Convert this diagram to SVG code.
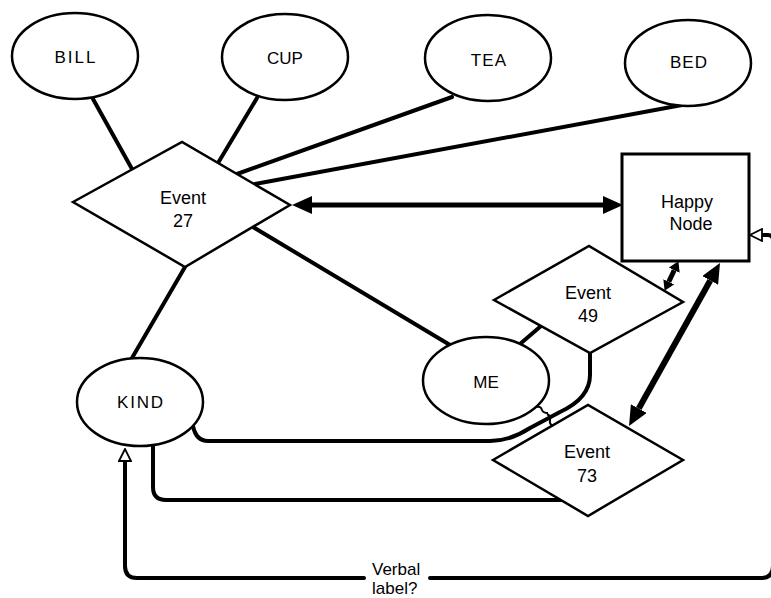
<svg xmlns="http://www.w3.org/2000/svg" width="771" height="598" viewBox="0 0 771 598">
<style>
  .shape { fill: #fff; stroke: #000; stroke-width: 2.5; }
  .box { fill: #fff; stroke: #000; stroke-width: 3; }
  .link { fill: none; stroke: #000; stroke-width: 4; stroke-linecap: round; stroke-linejoin: round; }
  .hop { fill: none; stroke: #000; stroke-width: 2; }
  .lbl { font-family: "Liberation Sans", Arial, sans-serif; font-size: 18px; fill: #000; text-anchor: middle; }
  .cap { font-size: 17px; }
  .free { font-family: "Liberation Sans", Arial, sans-serif; font-size: 17px; fill: #000; }
</style>
<defs>
  <marker id="ahBig" viewBox="0 0 20 18" refX="0" refY="9" markerWidth="20" markerHeight="18" markerUnits="userSpaceOnUse" orient="auto-start-reverse">
    <path d="M0,0 L20,9 L0,18 z" fill="#000"/>
  </marker>
  <marker id="ahSmall" viewBox="0 0 10 12" refX="0" refY="6" markerWidth="10" markerHeight="12" markerUnits="userSpaceOnUse" orient="auto-start-reverse">
    <path d="M0,0 L10,6 L0,12 z" fill="#000"/>
  </marker>
  <marker id="ahOpen" viewBox="-1 -1 14 14" refX="0" refY="6" markerWidth="14" markerHeight="14" markerUnits="userSpaceOnUse" orient="auto-start-reverse">
    <path d="M0,0 L12,6 L0,12 z" fill="#fff" stroke="#000" stroke-width="1.8"/>
  </marker>
</defs>

<g id="connectors">
  <line class="link" x1="93" y1="99" x2="132" y2="169"/>
  <line class="link" x1="257" y1="98" x2="218" y2="163"/>
  <line class="link" x1="452" y1="97" x2="237" y2="174"/>
  <line class="link" x1="682" y1="105" x2="255" y2="184"/>
  <line class="link" x1="185" y1="267" x2="132" y2="358"/>
  <line class="link" x1="253" y1="227" x2="450" y2="345"/>
  <line class="link" x1="520" y1="344" x2="541" y2="326"/>
  <path class="link" d="M590 353 V375 Q590 398 560 412 L530 428 Q510 441 490 441 H208 Q196 441 193 426"/>
  <path class="link" d="M153 446 V487 Q153 500 166 500 H561"/>
  <line x1="312" y1="205" x2="603" y2="205" stroke="#000" stroke-width="5" marker-start="url(#ahBig)" marker-end="url(#ahBig)"/>
  <line x1="674.2" y1="270.2" x2="668.8" y2="281.8" stroke="#000" stroke-width="5" marker-start="url(#ahSmall)" marker-end="url(#ahSmall)"/>
  <line x1="710.25" y1="280.46" x2="638.75" y2="408.54" stroke="#000" stroke-width="6" marker-start="url(#ahBig)" marker-end="url(#ahBig)"/>
  <path class="link" d="M762 235 H768 Q773 235 773 240 V566 Q773 578 761 578 H430" marker-start="url(#ahOpen)"/>
  <path class="link" d="M364 578 H137 Q125 578 125 566 V461" marker-end="url(#ahOpen)"/>
</g>

<g id="bill"><ellipse class="shape" cx="75" cy="56" rx="63" ry="43"/><text class="lbl cap" x="76" y="63" letter-spacing="2">BILL</text></g>
<g id="cup"><ellipse class="shape" cx="285" cy="57" rx="63" ry="43"/><text class="lbl cap" x="285" y="64">CUP</text></g>
<g id="tea"><ellipse class="shape" cx="488" cy="58" rx="63" ry="43"/><text class="lbl cap" x="489" y="66" letter-spacing="1.2">TEA</text></g>
<g id="bed"><ellipse class="shape" cx="688" cy="63" rx="63" ry="43"/><text class="lbl cap" x="689" y="68" letter-spacing="1">BED</text></g>

<g id="event27">
  <polygon class="shape" points="73,202 182,142 290,205 185,267"/>
  <text class="lbl" x="183" y="204">Event</text>
  <text class="lbl" x="183" y="227">27</text>
</g>

<g id="happy-node">
  <rect class="box" x="622" y="154" width="127" height="107"/>
  <text class="lbl" x="687" y="208">Happy</text>
  <text class="lbl" x="691" y="230">Node</text>
</g>

<g id="event49">
  <polygon class="shape" points="494,300 589,246 683,302 590,353"/>
  <text class="lbl" x="588" y="299">Event</text>
  <text class="lbl" x="588" y="322">49</text>
</g>

<g id="me">
  <ellipse class="shape" cx="486" cy="380.5" rx="63" ry="43.5"/>
  <text class="lbl cap" x="486" y="388">ME</text>
</g>

<g id="kind">
  <ellipse class="shape" cx="140" cy="402" rx="63" ry="44"/>
  <text class="lbl cap" x="141" y="408" letter-spacing="1.8">KIND</text>
</g>

<g id="event73">
  <polygon class="shape" points="493,460 588,405 683,460 588,516"/>
  <text class="lbl" x="587" y="458">Event</text>
  <text class="lbl" x="587" y="482">73</text>
</g>

<g id="hops">
  <path class="hop" d="M537 407 q4 -1 5 3 q1 3 6 3"/>
  <path class="hop" d="M547 414 q4 2 3 6 q-1 4 3 6"/>
</g>

<g id="verbal-label">
  <text class="free" x="372" y="575">Verbal</text>
  <text class="free" x="372" y="594">label?</text>
</g>
</svg>
